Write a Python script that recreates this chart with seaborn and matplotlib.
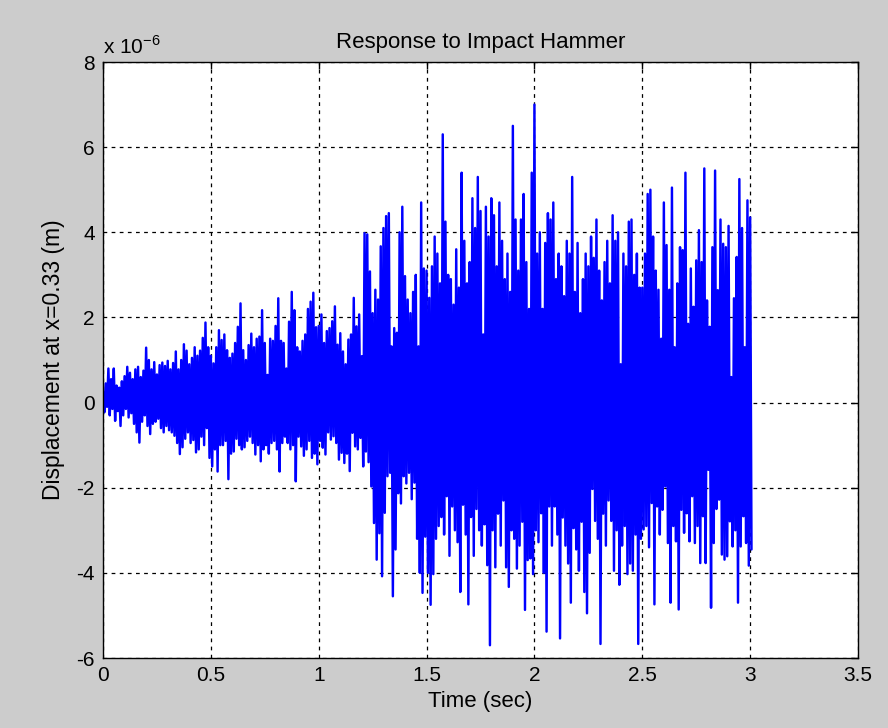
import numpy as np
import pandas as pd
import matplotlib
matplotlib.use("Agg")
import matplotlib.pyplot as plt
import seaborn as sns

# ---- data (units of 1e-6 m) ----
# upper / lower excursions, every 0.0125 s (lower ones half a step later)
upper_00_05 = [0.25, 0.45, 0.8, 0.55, 0.8, 0.4, 0.35, 0.5, 0.62, 0.84, 0.7, 0.55, 0.78, 0.84, 0.6, 0.75,
               1.29, 1.0, 0.78, 0.95, 0.66, 0.88, 0.94, 0.86, 0.98, 0.78, 0.93, 1.2, 0.78, 1.0, 1.37, 1.22,
               0.9, 1.05, 1.3, 1.1, 1.22, 1.52, 1.88, 1.3]
lower_00_05 = [-0.23, -0.1, -0.3, -0.15, -0.43, -0.2, -0.55, -0.3, -0.15, -0.35, -0.25, -0.5, -0.7, -0.94,
               -0.45, -0.3, -0.55, -0.74, -0.5, -0.45, -0.38, -0.6, -0.7, -0.55, -0.65, -0.7, -0.78, -0.95,
               -1.21, -1.05, -0.85, -0.7, -0.95, -0.88, -1.17, -1.1, -0.8, -1.0, -0.6, -1.3]
upper_05_10 = [1.1, 0.92, 1.3, 1.7, 1.47, 1.6, 1.23, 1.05, 1.15, 1.4, 1.78, 2.33, 1.23, 1.0, 1.35, 1.62,
               1.3, 1.5, 1.55, 2.17, 1.4, 0.65, 1.5, 1.45, 1.8, 2.45, 1.45, 1.4, 0.8, 1.9, 2.6, 2.17,
               1.3, 1.2, 1.45, 1.6, 2.2, 2.37, 2.58, 1.77]
lower_05_10 = [-1.5, -1.1, -1.62, -1.0, -1.0, -0.9, -1.8, -1.2, -1.15, -0.85, -1.0, -1.1, -1.05, -0.9,
               -0.8, -0.95, -1.22, -1.0, -1.38, -1.1, -1.0, -1.2, -0.95, -0.9, -1.1, -1.62, -0.95, -0.8,
               -0.95, -1.1, -1.0, -1.85, -0.8, -1.03, -1.25, -1.1, -0.9, -1.3, -1.2, -1.45]
upper_10_15 = [1.8, 2.07, 1.4, 1.68, 1.75, 1.91, 2.26, 1.36, 1.63, 1.2, 0.9, 1.48, 1.6, 2.46, 1.79, 2.07,
               1.09, 3.98, 3.95, 3.08, 2.1, 2.65, 2.42, 3.67, 4.1, 4.38, 4.45, 1.32, 1.75, 1.64, 4.0, 4.6,
               2.97, 2.42, 2.1, 2.6, 3.0, 1.32, 4.7, 3.15]
lower_10_15 = [-0.9, -1.06, -1.22, -0.7, -0.87, -0.79, -0.95, -1.34, -1.18, -1.42, -1.2, -1.61, -0.71,
               -1.03, -1.1, -0.83, -1.5, -1.15, -1.4, -1.97, -2.83, -3.69, -3.07, -4.08, -2.59, -1.73,
               -1.65, -4.55, -3.45, -2.13, -2.37, -1.73, -1.9, -1.65, -2.27, -1.88, -3.2, -4.0, -4.47, -3.15]
upper_15_20 = [3.1, 2.46, 3.2, 3.9, 3.5, 2.8, 6.3, 4.25, 3.0, 2.9, 2.3, 3.6, 2.7, 5.4, 3.8, 2.8,
               3.3, 4.8, 4.1, 5.3, 4.5, 1.6, 4.6, 3.9, 4.8, 4.4, 3.2, 4.7, 3.8, 2.9, 3.5, 2.6,
               6.5, 4.3, 3.1, 4.3, 4.9, 3.3, 2.2, 5.4]
lower_15_20 = [-4.0, -4.75, -4.03, -3.2, -2.9, -2.69, -3.1, -2.2, -3.6, -2.44, -3.0, -3.28, -4.45, -2.4,
               -3.1, -4.74, -2.69, -3.6, -2.5, -3.0, -3.36, -2.86, -3.82, -5.7, -3.0, -3.87, -2.61, -3.36,
               -2.3, -3.87, -4.33, -3.0, -3.2, -3.9, -3.36, -2.8, -4.87, -3.7, -3.66, -4.03]
upper_20_25 = [7.0, 3.5, 4.0, 2.2, 3.75, 4.45, 4.3, 4.7, 2.9, 3.5, 3.2, 2.5, 3.8, 3.5, 5.3, 2.6,
               3.75, 2.1, 2.9, 3.5, 3.2, 3.9, 3.4, 4.3, 3.1, 2.4, 3.3, 3.8, 2.8, 4.4, 3.8, 4.0,
               0.9, 3.5, 3.2, 4.25, 4.3, 3.0, 3.5, 2.7]
lower_20_25 = [-3.0, -3.28, -2.6, -4.0, -5.38, -2.44, -3.36, -2.44, -3.1, -5.54, -2.7, -3.36, -3.78, -4.7,
               -2.95, -3.45, -3.95, -2.8, -4.45, -4.95, -3.53, -2.03, -2.78, -3.2, -5.67, -2.61, -3.36, -2.3,
               -2.78, -3.95, -3.0, -4.28, -3.36, -2.9, -4.03, -3.78, -3.95, -3.1, -5.67, -3.2]
upper_25_30 = [2.7, 3.5, 4.9, 5.0, 3.9, 3.1, 2.65, 1.5, 4.7, 3.7, 2.65, 5.05, 1.3, 2.8, 3.65, 3.58,
               5.4, 1.85, 3.15, 2.25, 3.34, 4.05, 3.3, 5.5, 2.4, 1.78, 3.65, 5.45, 2.64, 4.3, 3.73, 3.65,
               4.15, 0.6, 2.45, 3.42, 5.25, 4.1, 1.3, 4.75, 4.35]
lower_25_30 = [-2.98, -2.9, -3.4, -2.36, -4.74, -2.44, -3.1, -2.52, -1.97, -3.3, -4.7, -2.9, -3.26, -4.86,
               -2.52, -3.06, -2.6, -3.26, -2.2, -3.3, -2.9, -3.77, -2.67, -3.77, -1.58, -4.82, -3.3, -2.5,
               -2.28, -3.57, -3.69, -3.61, -2.79, -3.38, -3.0, -4.7, -3.38, -2.67, -3.3, -3.83, -3.45]

x_ticks = [0, 0.5, 1, 1.5, 2, 2.5, 3, 3.5]
x_tick_labels = ["0", "0.5", "1", "1.5", "2", "2.5", "3", "3.5"]
y_ticks = [-6, -4, -2, 0, 2, 4, 6, 8]
y_tick_labels = ["-6", "-4", "-2", "0", "2", "4", "6", "8"]
sample_step = 0.0125

# ---- build the table ----
upper = np.array(upper_00_05 + upper_05_10 + upper_10_15 + upper_15_20 + upper_20_25 + upper_25_30)
lower = np.array(lower_00_05 + lower_05_10 + lower_10_15 + lower_15_20 + lower_20_25 + lower_25_30)
disp = np.empty(upper.size + lower.size)
disp[0::2] = upper
disp[1::2] = lower
time = np.arange(disp.size) * sample_step / 2
df = pd.DataFrame({"time": time, "disp": disp})

sns.set_style("white")
plt.rcParams["font.family"] = ["Liberation Sans", "DejaVu Sans"]
plt.rcParams["text.color"] = "black"
plt.rcParams["axes.labelcolor"] = "black"

fig = plt.figure(figsize=(8.88, 7.28), dpi=100, facecolor="#cccccc")
ax = fig.add_axes([103 / 888, 1 - 658 / 728, (858 - 103) / 888, (658 - 62) / 728])
ax.set_facecolor("white")

sns.lineplot(data=df, x="time", y="disp", ax=ax, color="#0000ff", linewidth=1.75,
             estimator=None, sort=False, legend=False)

ax.set_xlim(0, 3.5)
ax.set_ylim(-6, 8)
ax.set_xticks(x_ticks)
ax.set_xticklabels(x_tick_labels)
ax.set_yticks(y_ticks)
ax.set_yticklabels(y_tick_labels)
ax.tick_params(direction="in", length=5, width=1, colors="black", labelsize=15,
               top=True, right=True, pad=6)
ax.grid(True, color="black", linestyle=(0, (3, 3.5)), linewidth=0.9)
for s in ax.spines.values():
    s.set_visible(True)
    s.set_color("black")
    s.set_linewidth(1.0)

ax.set_title("Response to Impact Hammer", fontsize=16, pad=10, color="black")
ax.set_xlabel("Time (sec)", fontsize=16, labelpad=4, color="black")
ax.set_ylabel("Displacement at x=0.33 (m)", fontsize=16.5, labelpad=8, color="black")
fig.text(103 / 888, 1 - 54 / 728, r"x 10$^{\mathregular{-6}}$", fontsize=15, ha="left",
         va="baseline", color="black")

fig.savefig("out.png", dpi=100, facecolor=fig.get_facecolor())
